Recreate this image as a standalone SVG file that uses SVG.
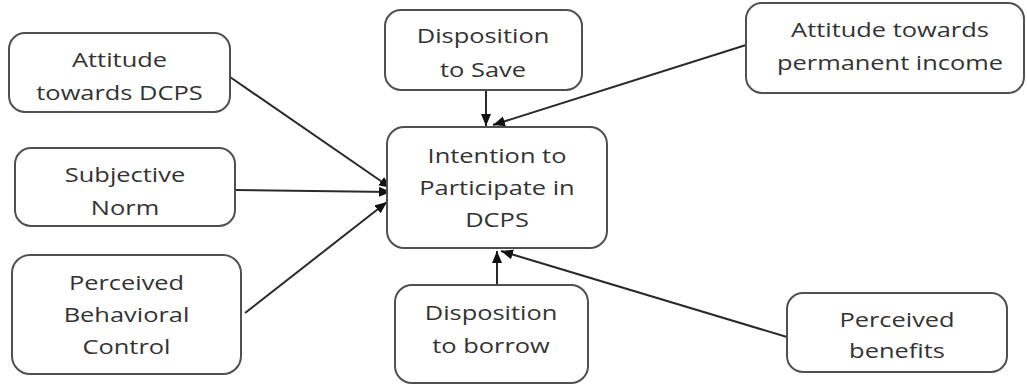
<svg xmlns="http://www.w3.org/2000/svg" width="1027" height="385" viewBox="0 0 1027 385">
<style>
.box{fill:#fff;stroke:#505050;stroke-width:2}
.t{font-family:"Open Sans","Liberation Sans",sans-serif;font-size:20px;fill:#333;text-anchor:middle}
.c{stroke:#2a2a2a;stroke-width:2;fill:none;marker-end:url(#ah)}
</style>
<defs>
<marker id="ah" markerUnits="userSpaceOnUse" markerWidth="13" markerHeight="11" refX="12" refY="5" orient="auto">
<path d="M0,0 L12,5 L0,10 z" fill="#111"/>
</marker>
</defs>
<rect width="1027" height="385" fill="#fff"/>
<g id="connectors">
<line class="c" x1="230" y1="77" x2="391" y2="188"/>
<line class="c" x1="235" y1="190" x2="391" y2="192"/>
<line class="c" x1="245" y1="313" x2="387" y2="202"/>
<line class="c" x1="486" y1="90" x2="486" y2="126"/>
<line class="c" x1="746" y1="45" x2="493" y2="125"/>
<line class="c" x1="497" y1="285" x2="497" y2="251"/>
<line class="c" x1="787" y1="337" x2="501" y2="251"/>
</g>
<g id="intention">
<rect class="box" x="387" y="127" width="220" height="121" rx="17"/>
<text class="t" transform="translate(497,0) scale(1.27,1)" x="0" y="163">Intention to</text>
<text class="t" transform="translate(497,0) scale(1.27,1)" x="0" y="195">Participate in</text>
<text class="t" transform="translate(497,0) scale(1.27,1)" x="0" y="227">DCPS</text>
</g>
<g id="attitude-dcps">
<rect class="box" x="9" y="33" width="221" height="79" rx="16"/>
<text class="t" transform="translate(119.5,0) scale(1.27,1)" x="0" y="67">Attitude</text>
<text class="t" transform="translate(119.5,0) scale(1.27,1)" x="0" y="100">towards DCPS</text>
</g>
<g id="subjective-norm">
<rect class="box" x="15" y="148" width="220" height="78" rx="16"/>
<text class="t" transform="translate(125,0) scale(1.27,1)" x="0" y="182">Subjective</text>
<text class="t" transform="translate(125,0) scale(1.27,1)" x="0" y="215">Norm</text>
</g>
<g id="pbc">
<rect class="box" x="12" y="255" width="229" height="119" rx="18"/>
<text class="t" transform="translate(126.5,0) scale(1.27,1)" x="0" y="290">Perceived</text>
<text class="t" transform="translate(126.5,0) scale(1.27,1)" x="0" y="322">Behavioral</text>
<text class="t" transform="translate(126.5,0) scale(1.27,1)" x="0" y="354">Control</text>
</g>
<g id="disposition-save">
<rect class="box" x="385" y="10" width="197" height="80" rx="16"/>
<text class="t" transform="translate(483,0) scale(1.27,1)" x="0" y="43">Disposition</text>
<text class="t" transform="translate(483,0) scale(1.27,1)" x="0" y="77">to Save</text>
</g>
<g id="attitude-income">
<rect class="box" x="746" y="3" width="278" height="90" rx="16"/>
<text class="t" transform="translate(890,0) scale(1.27,1)" x="0" y="37">Attitude towards</text>
<text class="t" transform="translate(890,0) scale(1.27,1)" x="0" y="70">permanent income</text>
</g>
<g id="disposition-borrow">
<rect class="box" x="395" y="285" width="193" height="98" rx="17"/>
<text class="t" transform="translate(491,0) scale(1.27,1)" x="0" y="320">Disposition</text>
<text class="t" transform="translate(491,0) scale(1.27,1)" x="0" y="353">to borrow</text>
</g>
<g id="perceived-benefits">
<rect class="box" x="787" y="293" width="220" height="79" rx="16"/>
<text class="t" transform="translate(897,0) scale(1.27,1)" x="0" y="327">Perceived</text>
<text class="t" transform="translate(897,0) scale(1.27,1)" x="0" y="358">benefits</text>
</g>
</svg>
